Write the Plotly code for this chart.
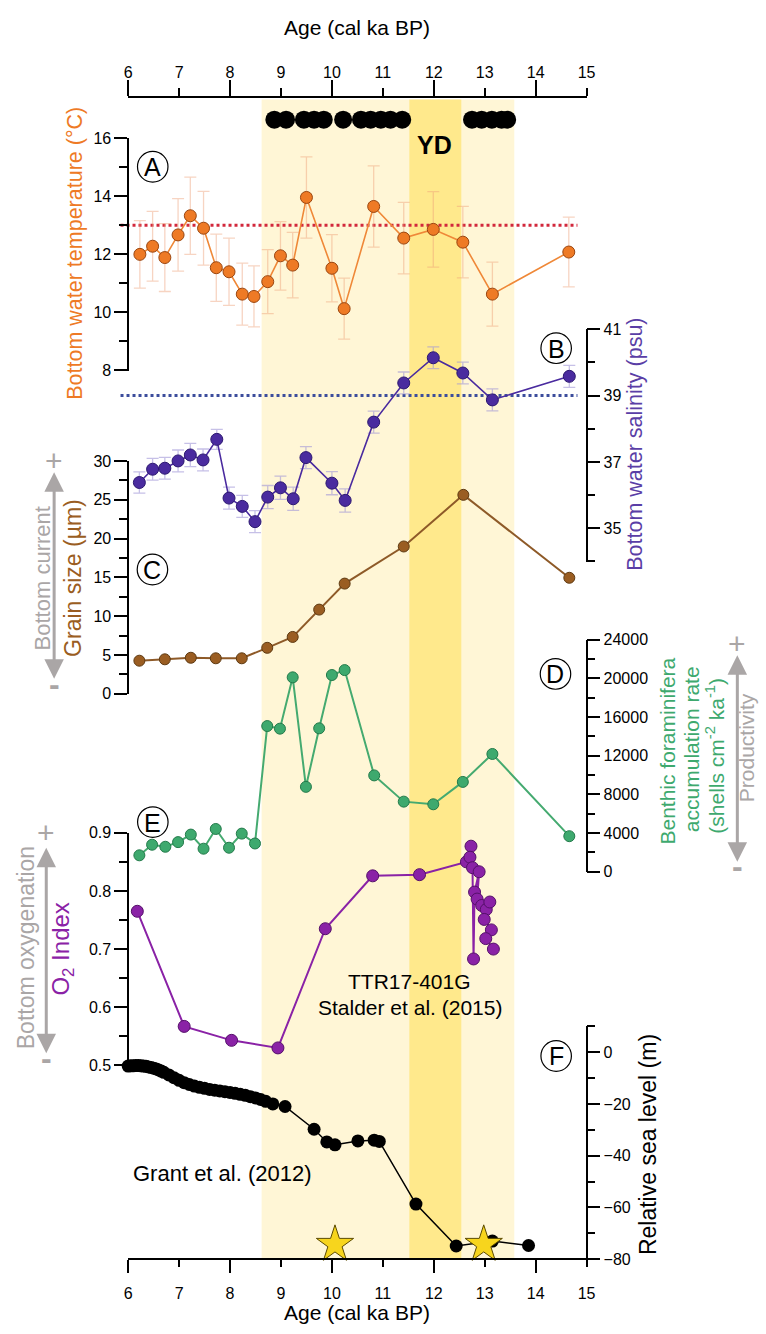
import plotly.graph_objects as go

W, H = 766, 1334

# ---------------- data ----------------
top_dates_age = [8.87, 9.10, 9.45, 9.65, 9.84, 10.22, 10.57, 10.76, 10.96, 11.15, 11.38,
                 12.75, 12.94, 13.14, 13.33, 13.44]

temp_age = [6.23, 6.48, 6.72, 6.98, 7.22, 7.48, 7.73, 7.98, 8.24, 8.47, 8.74, 8.99, 9.23, 9.50,
            10.00, 10.24, 10.82, 11.41, 11.99, 12.57, 13.15, 14.65]
temp_val = [12.00, 12.28, 11.89, 12.67, 13.33, 12.90, 11.54, 11.40, 10.63, 10.55, 11.06, 11.95,
            11.63, 13.96, 11.52, 10.13, 13.65, 12.56, 12.86, 12.42, 10.63, 12.08]
temp_err = [1.16, 1.20, 1.17, 1.25, 1.33, 1.27, 1.16, 1.16, 1.07, 1.05, 1.10, 1.18, 1.13, 1.40,
            1.16, 1.05, 1.40, 1.23, 1.30, 1.23, 1.10, 1.20]
temp_ref_age = [5.85, 14.82]
temp_ref_val = [13.0, 13.0]

sal_age = [6.22, 6.48, 6.72, 6.98, 7.22, 7.47, 7.74, 7.98, 8.24, 8.49, 8.74, 8.99, 9.24, 9.49,
           10.00, 10.26, 10.82, 11.41, 11.99, 12.57, 13.15, 14.66]
sal_val = [36.38, 36.78, 36.81, 37.03, 37.21, 37.06, 37.68, 35.91, 35.66, 35.20, 35.94, 36.22,
           35.89, 37.13, 36.36, 35.84, 38.20, 39.38, 40.14, 39.68, 38.87, 39.58]
sal_err = [0.32, 0.33, 0.33, 0.33, 0.35, 0.33, 0.30, 0.33, 0.33, 0.33, 0.35, 0.35, 0.35, 0.33,
           0.35, 0.35, 0.33, 0.33, 0.33, 0.33, 0.33, 0.33]
sal_ref_age = [5.85, 14.82]
sal_ref_val = [39.0, 39.0]

gs_age = [6.22, 6.72, 7.23, 7.72, 8.23, 8.73, 9.23, 9.75, 10.25, 11.41, 12.58, 14.66]
gs_val = [4.27, 4.45, 4.65, 4.58, 4.58, 5.93, 7.33, 10.85, 14.20, 18.98, 25.63, 14.95]

bfar_age = [6.22, 6.47, 6.73, 6.98, 7.23, 7.48, 7.72, 7.98, 8.23, 8.49, 8.73, 8.98, 9.23, 9.49,
            9.75, 10.00, 10.25, 10.83, 11.41, 11.99, 12.57, 13.15, 14.66]
bfar_val = [1695, 2790, 2580, 3060, 3840, 2380, 4420, 2480, 3940, 2920, 15070, 14800, 20110, 8780,
            14835, 20350, 20860, 9965, 7250, 6975, 9290, 12180, 3675]

o2_age = [6.18, 7.10, 8.03, 8.94, 9.87, 10.80, 11.72, 12.64, 12.73, 12.71, 12.76, 12.78, 12.80,
          12.89, 12.85, 12.94, 13.03, 13.10, 12.99, 13.13, 13.02, 13.17]
o2_val = [0.765, 0.567, 0.543, 0.530, 0.735, 0.826, 0.828, 0.850, 0.877, 0.858, 0.840, 0.683,
          0.798, 0.833, 0.786, 0.775, 0.768, 0.781, 0.751, 0.733, 0.718, 0.700]

sl_age = [6.00, 6.05, 6.10, 6.15, 6.20, 6.25, 6.30, 6.35, 6.40, 6.45, 6.50, 6.55, 6.60, 6.65,
          6.70, 6.80, 6.90, 7.00, 7.10, 7.20, 7.30, 7.40, 7.50, 7.60, 7.70, 7.80, 7.90, 8.00,
          8.10, 8.20, 8.30, 8.40, 8.50, 8.60, 8.70,
          8.84, 9.08, 9.65, 9.90, 10.06, 10.51, 10.83, 10.93, 11.65, 12.44, 13.15, 13.86]
sl_val = [-5.4, -5.3, -5.3, -5.2, -5.2, -5.3, -5.4, -5.5, -5.7, -5.9, -6.2, -6.5, -6.9, -7.3,
          -7.8, -8.8, -9.9, -10.9, -11.8, -12.5, -13.1, -13.6, -14.0, -14.4, -14.7, -15.0, -15.3,
          -15.6, -15.9, -16.3, -16.7, -17.2, -17.7, -18.3, -19.0,
          -20.0, -21.0, -29.8, -34.7, -35.8, -34.3, -34.0, -34.5, -58.7, -74.9, -73.0, -74.7]

star_age = [10.06, 12.98]
star_level = -74.3

age_ticks = [6, 7, 8, 9, 10, 11, 12, 13, 14, 15]
light_band = [8.62, 13.58]
yd_band = [11.52, 12.54]

# ---------------- geometry helpers ----------------
def fx(px):
    return px / W


def fy(py):
    return 1 - py / H


AGE6_PX, PX_PER_KA = 126.3, 51.82


def age_px(a):
    return AGE6_PX + (a - 6) * PX_PER_KA


XL, XR = 5.5, 15.5
LEFT_POS = fx(age_px(6))
RIGHT_POS = fx(age_px(15))
FONT = "Liberation Sans, Arial, sans-serif"
GREY = "#aaa6a6"

C_ORANGE = "#ee7a25"
C_SAL = "#4a2b9f"
C_BROWN = "#9a5d22"
C_GREEN = "#3ea96e"
C_PURPLE = "#8a22a6"

fig = go.Figure()

# ---------------- traces ----------------
fig.add_trace(go.Scatter(x=temp_ref_age, y=temp_ref_val, mode="lines", xaxis="x", yaxis="y",
                         line=dict(color="#d2283c", width=3, dash="dot"), hoverinfo="skip"))
fig.add_trace(go.Scatter(x=temp_age, y=temp_val, mode="lines+markers", xaxis="x", yaxis="y",
                         line=dict(color="#ef8838", width=1.6),
                         marker=dict(size=12, color=C_ORANGE, line=dict(color="#9a4610", width=1)),
                         error_y=dict(type="data", array=temp_err, color="rgba(238,160,120,0.45)",
                                      thickness=1.3, width=6), cliponaxis=False))

fig.add_trace(go.Scatter(x=sal_ref_age, y=sal_ref_val, mode="lines", xaxis="x", yaxis="y2",
                         line=dict(color="#3c4d9c", width=3, dash="dot"), hoverinfo="skip"))
fig.add_trace(go.Scatter(x=sal_age, y=sal_val, mode="lines+markers", xaxis="x", yaxis="y2",
                         line=dict(color=C_SAL, width=1.6),
                         marker=dict(size=12, color=C_SAL, line=dict(color="#2c1870", width=1)),
                         error_y=dict(type="data", array=sal_err, color="rgba(160,150,215,0.6)",
                                      thickness=1.3, width=6), cliponaxis=False))

fig.add_trace(go.Scatter(x=gs_age, y=gs_val, mode="lines+markers", xaxis="x", yaxis="y3",
                         line=dict(color="#8e5a28", width=2),
                         marker=dict(size=11, color=C_BROWN, line=dict(color="#5e3a12", width=1)),
                         cliponaxis=False))

fig.add_trace(go.Scatter(x=bfar_age, y=bfar_val, mode="lines+markers", xaxis="x", yaxis="y4",
                         line=dict(color="#45aa70", width=2),
                         marker=dict(size=11, color=C_GREEN, line=dict(color="#237a4a", width=1)),
                         cliponaxis=False))

fig.add_trace(go.Scatter(x=o2_age, y=o2_val, mode="lines+markers", xaxis="x", yaxis="y5",
                         line=dict(color=C_PURPLE, width=2),
                         marker=dict(size=12, color=C_PURPLE, line=dict(color="#55106a", width=1)),
                         cliponaxis=False))

fig.add_trace(go.Scatter(x=sl_age, y=sl_val, mode="lines+markers", xaxis="x", yaxis="y6",
                         line=dict(color="black", width=1.5),
                         marker=dict(size=13, color="black"), cliponaxis=False))
fig.add_trace(go.Scatter(x=star_age, y=[star_level] * len(star_age), mode="markers",
                         xaxis="x", yaxis="y6",
                         marker=dict(symbol="star", size=28, color="#f7d51d",
                                     line=dict(color="#5b4a00", width=1)), cliponaxis=False))

fig.add_trace(go.Scatter(x=top_dates_age, y=[0.5] * len(top_dates_age), mode="markers",
                         xaxis="x", yaxis="y7",
                         marker=dict(size=18, color="black"), cliponaxis=False))

for xa in ["x2", "x3", "x4", "x5"]:
    fig.add_trace(go.Scatter(x=[age_ticks[0], age_ticks[-1]], y=[0.5, 0.5], mode="markers",
                             xaxis=xa, yaxis="y7", marker=dict(opacity=0),
                             hoverinfo="skip"))

# ---------------- axes ----------------
layout = dict(
    width=W, height=H, margin=dict(l=0, r=0, t=0, b=0),
    paper_bgcolor="white", plot_bgcolor="rgba(0,0,0,0)",
    showlegend=False, font=dict(family=FONT, size=16, color="black"),
)

layout["xaxis"] = dict(domain=[fx(age_px(XL)), fx(age_px(XR))], range=[XL, XR],
                       visible=False, anchor="y")

xdom = [fx(age_px(6)), fx(age_px(15))]
common_x = dict(domain=xdom, range=[5.999, 15.001], anchor="free", showgrid=False,
                zeroline=False, tickfont=dict(size=16, family=FONT))
layout["xaxis2"] = dict(common_x, side="top", position=fy(90), tickmode="array",
                        tickvals=age_ticks, ticks="outside", ticklen=13,
                        tickcolor="rgba(0,0,0,0)", showline=False)
layout["xaxis3"] = dict(common_x, side="top", position=fy(90), tickmode="linear", tick0=6,
                        dtick=2, ticks="outside", ticklen=16, tickwidth=1.5,
                        tickcolor="black", showline=True, linecolor="black", linewidth=1.5,
                        showticklabels=False,
                        minor=dict(dtick=1, ticks="outside", ticklen=8, tickwidth=1.5,
                                   tickcolor="black"))
layout["xaxis4"] = dict(common_x, side="bottom", position=fy(1266.5), tickmode="array",
                        tickvals=age_ticks, ticks="outside", ticklen=19,
                        tickcolor="rgba(0,0,0,0)", showline=False)
layout["xaxis5"] = dict(common_x, side="bottom", position=fy(1266.5), tickmode="linear",
                        tick0=6, dtick=2, ticks="outside", ticklen=13, tickwidth=1.5,
                        tickcolor="black", showline=True, linecolor="black", linewidth=1.5,
                        showticklabels=False,
                        minor=dict(dtick=1, ticks="outside", ticklen=7, tickwidth=1.5,
                                   tickcolor="black"))

panels = {
    "yaxis":  dict(rng=[8, 16], top=131.7, bot=367.0, side="left", dtick=2, tick0=8, minor=1),
    "yaxis2": dict(rng=[34, 41], top=325.0, bot=560.3, side="right", dtick=2, tick0=35, minor=1),
    "yaxis3": dict(rng=[0, 30], top=458.3, bot=694.3, side="left", dtick=5, tick0=0, minor=2.5),
    "yaxis4": dict(rng=[0, 24000], top=639.3, bot=874.3, side="right", dtick=4000, tick0=0,
                   minor=2000, fmt="d"),
    "yaxis5": dict(rng=[0.5, 0.9], top=834.7, bot=1070.3, side="left", dtick=0.1, tick0=0.5,
                   minor=0.05),
    "yaxis6": dict(rng=[-80, 10], top=1030.5, bot=1266.5, side="right", dtick=20, tick0=0,
                   minor=10),
}
for name, p in panels.items():
    lo, hi = p["rng"]
    eps = (hi - lo) * 0.0005
    ax = dict(
        domain=[fy(p["bot"]), fy(p["top"])], range=[lo - eps, hi + eps],
        anchor="free", position=LEFT_POS if p["side"] == "left" else RIGHT_POS,
        side=p["side"], showline=True, linecolor="black", linewidth=1.5,
        ticks="outside", ticklen=13, tickwidth=1.5, tickcolor="black",
        tickmode="linear", tick0=p["tick0"], dtick=p["dtick"],
        exponentformat="none",
        minor=dict(dtick=p["minor"], ticks="outside", ticklen=8, tickwidth=1.5,
                   tickcolor="black"),
        showgrid=False, zeroline=False, tickfont=dict(size=16, family=FONT),
    )
    if "fmt" in p:
        ax["tickformat"] = p["fmt"]
    layout[name] = ax
layout["yaxis7"] = dict(domain=[fy(126), fy(100)], range=[0, 1], visible=False,
                        anchor="free", position=0)

# ---------------- bands ----------------
shapes = [
    dict(type="rect", xref="x", yref="paper", x0=light_band[0], x1=light_band[1],
         y0=fy(1266), y1=fy(92.7), fillcolor="#fff6d6", line=dict(width=0), layer="below"),
    dict(type="rect", xref="x", yref="paper", x0=yd_band[0], x1=yd_band[1],
         y0=fy(1266), y1=fy(92.7), fillcolor="#ffe98c", line=dict(width=0), layer="below"),
]

annotations = []


def label(text, x, y, size=22, color="black", angle=0, **kw):
    annotations.append(dict(text=text, x=fx(x), y=fy(y), xref="paper", yref="paper",
                            showarrow=False, textangle=angle, xanchor="center",
                            yanchor="middle", font=dict(family=FONT, size=size, color=color),
                            **kw))


# circled panel letters
for letter, cx, cy in [("A", 151.3, 160.7), ("B", 561.7, 344.3), ("C", 151.0, 568.3),
                       ("D", 561.0, 674.0), ("E", 151.4, 824.0), ("F", 561.7, 1060.7)]:
    r = 15.5
    shapes.append(dict(type="circle", xref="paper", yref="paper", x0=fx(cx - r), x1=fx(cx + r),
                       y0=fy(cy + r), y1=fy(cy - r), line=dict(color="black", width=1.2)))
    label(letter, cx, cy + 0.5, size=25)

label("Age (cal ka BP)", 359, 20, size=21)
label("Age (cal ka BP)", 359, 1320, size=21)
label("<b>YD</b>", 438, 139, size=25)

label("Bottom water temperature (°C)", 72, 248, size=21.5, color=C_ORANGE, angle=-90)
label("Bottom water salinity (psu)", 642, 442, size=21.5, color="#5a3ea6", angle=-90)
label("Grain size (µm)", 70, 577, size=23, color=C_BROWN, angle=-90)
label("Bottom current", 39, 577, size=22, color=GREY, angle=-90)
label("Benthic foraminifera", 675, 752, size=21, color=C_GREEN, angle=-90)
label("accumulation rate", 699, 750, size=21, color=C_GREEN, angle=-90)
label("(shells cm<sup>-2</sup> ka<sup>-1</sup>)", 723, 757, size=21, color=C_GREEN, angle=-90)
label("Productivity", 755, 749, size=21, color=GREY, angle=-90)
label("Bottom oxygenation", 22, 951, size=23, color=GREY, angle=-90)
label("O<sub>2</sub> Index", 60, 952, size=24, color=C_PURPLE, angle=-90)
label("Relative sea level (m)", 655, 1150, size=23, color="black", angle=-90)

label("TTR17-401G", 413, 985, size=21)
label("Stalder et al. (2015)", 413, 1012, size=21)
label("Grant et al. (2012)", 222, 1180, size=22)

# grey +/- and double arrows
for (ax_x, top_tip, bot_tip, plus_y, minus_y) in [(51, 470, 678, 458, 686),
                                                    (746, 655, 863, 643, 870),
                                                    (43, 850, 1057, 835, 1065)]:
    annotations.append(dict(text="", x=fx(ax_x), y=fy(top_tip), xref="paper", yref="paper",
                            ax=0, ay=bot_tip - top_tip, axref="pixel", ayref="pixel",
                            showarrow=True, arrowhead=2, arrowside="end+start",
                            arrowsize=1.3, arrowwidth=3, arrowcolor=GREY, standoff=0,
                            startstandoff=0))
    label("+", ax_x, plus_y, size=30, color=GREY)
    label("<b>-</b>", ax_x, minus_y - 2, size=32, color=GREY)

layout["shapes"] = shapes
layout["annotations"] = annotations
fig.update_layout(**layout)

fig.write_html("out.html")
